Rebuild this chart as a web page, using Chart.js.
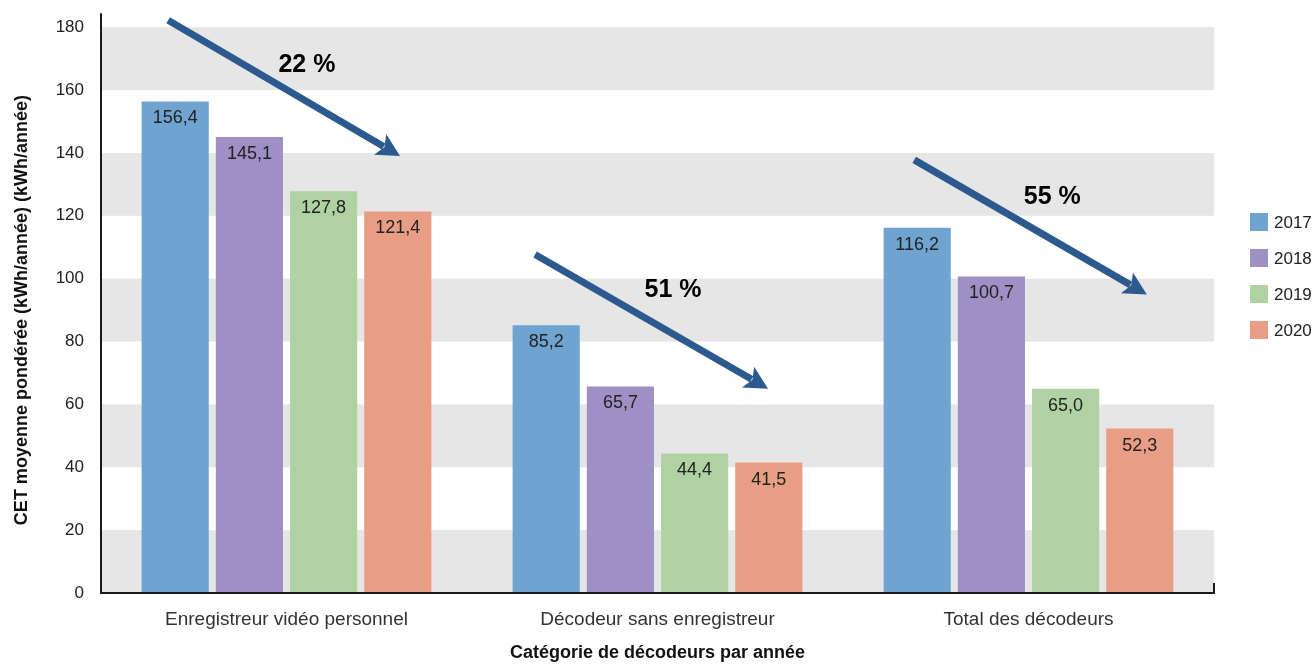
<!DOCTYPE html>
<html lang="fr">
<head>
  <meta charset="UTF-8">
  <title>CET moyenne pondérée des décodeurs</title>
  <style>
    html, body { margin: 0; padding: 0; background: #fff; }
    #wrap { width: 1316px; height: 664px; position: relative; }
  </style>
  <script src="https://cdn.jsdelivr.net/npm/chart.js"></script>
</head>
<body>
  <div id="wrap"><canvas id="chart" width="1316" height="664"></canvas></div>
  <script>
    // Données
    const categories = ['Enregistreur vidéo personnel', 'Décodeur sans enregistreur', 'Total des décodeurs'];
    const years = ['2017', '2018', '2019', '2020'];
    const values2017 = [156.4, 85.2, 116.2];
    const values2018 = [145.1, 65.7, 100.7];
    const values2019 = [127.8, 44.4, 65.0];
    const values2020 = [121.4, 41.5, 52.3];
    const reductionLabels = ['22 %', '51 %', '55 %'];
    const yTicks = [0, 20, 40, 60, 80, 100, 120, 140, 160, 180];

    const colors = ['#6fa3d0', '#9e8fc5', '#b0d2a3', '#e79e84'];
    const FONT = "'Liberation Sans', Arial, Helvetica, sans-serif";

    // flèches : position en (catégorie + décalage, valeur)
    const arrows = [
      { from: [-0.319, 182.2], to: [0.306, 139.0], text: [0.055, 168.0] },
      { from: [-0.330, 107.7], to: [0.298, 65.0], text: [0.042, 96.3] },
      { from: [-0.308, 137.8], to: [0.319, 95.0], text: [0.064, 126.1] }
    ];

    function fmt(v) {
      return v.toFixed(1).replace('.', ',');
    }

    const bandsPlugin = {
      id: 'bands',
      beforeDatasetsDraw(chart) {
        const { ctx, chartArea, scales } = chart;
        ctx.save();
        ctx.fillStyle = '#e6e6e6';
        for (let i = 0; i < yTicks.length - 1; i += 2) {
          const y1 = scales.y.getPixelForValue(yTicks[i]);
          const y2 = scales.y.getPixelForValue(yTicks[i + 1]);
          ctx.fillRect(chartArea.left, y2, chartArea.right - chartArea.left, y1 - y2);
        }
        ctx.restore();
      }
    };

    const overlayPlugin = {
      id: 'overlay',
      afterDraw(chart) {
        const { ctx, chartArea, scales } = chart;
        const xs = scales.x, ys = scales.y;
        const catW = xs.getPixelForValue(1) - xs.getPixelForValue(0);
        const px = (i, p) => [xs.getPixelForValue(i) + p[0] * catW, ys.getPixelForValue(p[1])];
        ctx.save();

        // axes
        ctx.strokeStyle = '#1a1a1a';
        ctx.lineWidth = 2;
        ctx.beginPath();
        ctx.moveTo(chartArea.left, chartArea.top - 14);
        ctx.lineTo(chartArea.left, chartArea.bottom);
        ctx.lineTo(chartArea.right, chartArea.bottom);
        ctx.lineTo(chartArea.right, chartArea.bottom - 10);
        ctx.stroke();

        // étiquettes de valeur
        ctx.fillStyle = '#222';
        ctx.font = '18px ' + FONT;
        ctx.textAlign = 'center';
        ctx.textBaseline = 'middle';
        chart.data.datasets.forEach((ds, di) => {
          chart.getDatasetMeta(di).data.forEach((bar, i) => {
            ctx.fillText(fmt(ds.data[i]), bar.x, bar.y + 17);
          });
        });

        // flèches
        arrows.forEach((a, i) => {
          const [x1, y1] = px(i, a.from);
          const [x2, y2] = px(i, a.to);
          const ang = Math.atan2(y2 - y1, x2 - x1);
          const headLen = 23, headW = 12;
          const bx = x2 - headLen * Math.cos(ang), by = y2 - headLen * Math.sin(ang);
          ctx.strokeStyle = '#2c5a8e';
          ctx.fillStyle = '#2c5a8e';
          ctx.lineWidth = 7;
          ctx.lineCap = 'butt';
          ctx.beginPath();
          ctx.moveTo(x1, y1);
          ctx.lineTo(bx + 4 * Math.cos(ang), by + 4 * Math.sin(ang));
          ctx.stroke();
          ctx.beginPath();
          ctx.moveTo(x2, y2);
          ctx.lineTo(bx + headW * Math.sin(ang), by - headW * Math.cos(ang));
          ctx.lineTo(bx + 5 * Math.cos(ang), by + 5 * Math.sin(ang));
          ctx.lineTo(bx - headW * Math.sin(ang), by + headW * Math.cos(ang));
          ctx.closePath();
          ctx.fill();

          const [tx, ty] = px(i, a.text);
          ctx.fillStyle = '#000';
          ctx.font = 'bold 25px ' + FONT;
          ctx.fillText(reductionLabels[i], tx, ty);
        });

        // légende
        ctx.font = '17px ' + FONT;
        ctx.textAlign = 'left';
        chart.data.datasets.forEach((ds, di) => {
          const cy = 222 + di * 36;
          ctx.fillStyle = ds.backgroundColor;
          ctx.fillRect(1250, cy - 9, 18, 18);
          ctx.fillStyle = '#222';
          ctx.fillText(ds.label, 1274, cy + 1);
        });
        ctx.restore();
      }
    };

    const seriesValues = [values2017, values2018, values2019, values2020];

    new Chart(document.getElementById('chart'), {
      type: 'bar',
      data: {
        labels: categories,
        datasets: years.map((y, i) => ({
          label: y,
          data: seriesValues[i],
          backgroundColor: colors[i],
          categoryPercentage: 0.8,
          barPercentage: 0.905
        }))
      },
      options: {
        responsive: false,
        animation: false,
        layout: { padding: { top: 25, right: 102, left: 0, bottom: 0 } },
        plugins: {
          legend: { display: false },
          tooltip: { enabled: false }
        },
        scales: {
          x: {
            grid: { display: false, drawTicks: false },
            border: { display: false },
            ticks: { color: '#333', font: { family: FONT, size: 19 }, padding: 15 },
            title: {
              display: true,
              text: 'Catégorie de décodeurs par année',
              color: '#111',
              font: { family: FONT, size: 18, weight: 'bold' },
              padding: { top: 0, bottom: 0 }
            },
            afterFit(scale) { scale.height = 71; }
          },
          y: {
            min: 0,
            max: 180,
            grid: { display: false, drawTicks: false },
            border: { display: false },
            afterBuildTicks(scale) { scale.ticks = yTicks.map(v => ({ value: v })); },
            ticks: { color: '#222', font: { family: FONT, size: 17 }, padding: 17 },
            title: {
              display: true,
              text: 'CET moyenne pondérée (kWh/année) (kWh/année)',
              color: '#111',
              font: { family: FONT, size: 18, weight: 'bold' },
              padding: { top: 11, bottom: 0 }
            },
            afterFit(scale) { scale.width = 101; }
          }
        }
      },
      plugins: [bandsPlugin, overlayPlugin]
    });
  </script>
</body>
</html>
